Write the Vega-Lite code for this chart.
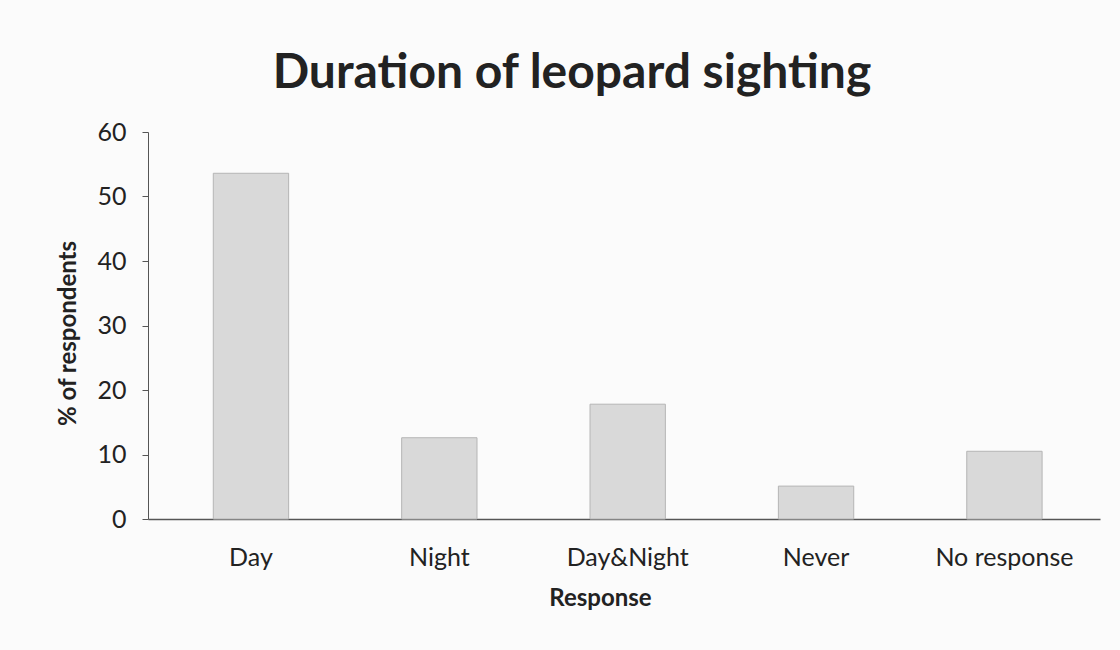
{
  "$schema": "https://vega.github.io/schema/vega-lite/v6.json",
  "autosize": "none",
  "width": 952,
  "height": 387,
  "padding": {"left": 148, "top": 132, "right": 20, "bottom": 131},
  "background": "#fbfbfb",
  "title": {
    "text": "Duration of leopard sighting",
    "font": "Lato",
    "fontSize": 48,
    "fontWeight": "bold",
    "color": "#222222",
    "anchor": "middle",
    "dx": -52,
    "offset": 22
  },
  "data": {
    "values": [
      {"Response": "Day", "Percent": 53.6},
      {"Response": "Night", "Percent": 12.6},
      {"Response": "Day&Night", "Percent": 17.8},
      {"Response": "Never", "Percent": 5.1},
      {"Response": "No response", "Percent": 10.5}
    ]
  },
  "mark": {"type": "bar", "fill": "#d9d9d9", "stroke": "#b5b5b5", "strokeWidth": 1},
  "encoding": {
    "x": {
      "field": "Response",
      "type": "nominal",
      "sort": null,
      "scale": {"paddingInner": 0.6, "paddingOuter": 0.327, "align": 0.53},
      "axis": {
        "title": "Response",
        "labelAngle": 0,
        "labelFont": "Lato",
        "labelFontSize": 25,
        "labelColor": "#222222",
        "labelPadding": 26,
        "titleFont": "Lato",
        "titleFontSize": 24,
        "titleFontWeight": "bold",
        "titleColor": "#222222",
        "titlePadding": 16,
        "titleX": 452,
        "ticks": false,
        "domainColor": "#555",
        "domainWidth": 1.5
      }
    },
    "y": {
      "field": "Percent",
      "type": "quantitative",
      "scale": {"domain": [0, 60]},
      "axis": {
        "title": "% of respondents",
        "values": [0, 10, 20, 30, 40, 50, 60],
        "grid": false,
        "labelFont": "Lato",
        "labelFontSize": 25,
        "labelColor": "#222222",
        "labelPadding": 16,
        "tickSize": 6,
        "tickColor": "#555",
        "domainColor": "#555",
        "titleFont": "Lato",
        "titleFontSize": 24,
        "titleFontWeight": "bold",
        "titleColor": "#222222",
        "titlePadding": 16,
        "titleY": 201
      }
    }
  },
  "config": {"view": {"stroke": null}}
}
